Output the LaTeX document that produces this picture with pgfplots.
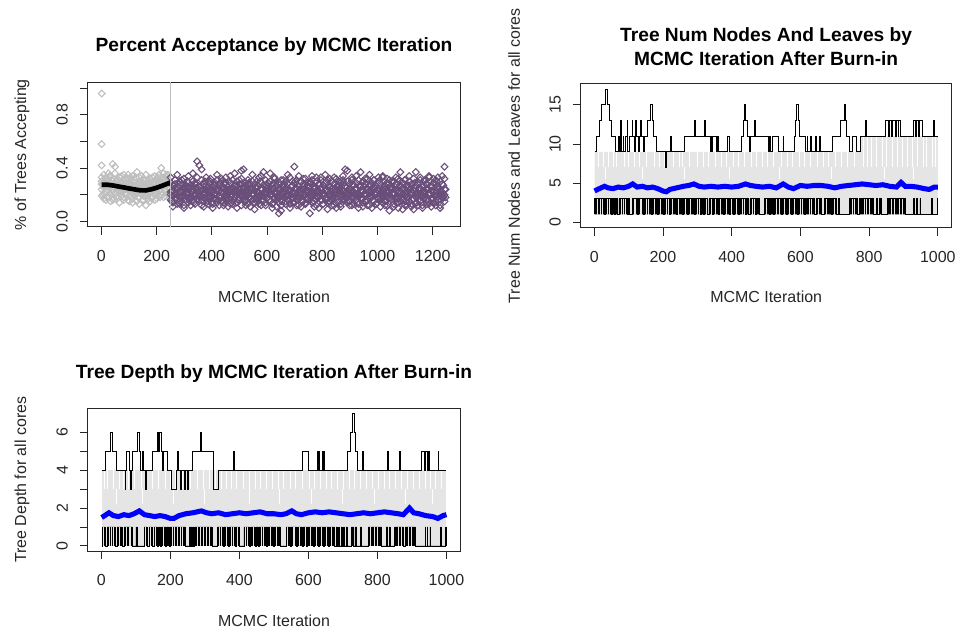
\documentclass[border=0pt]{standalone}
\usepackage{fontspec}
\setmainfont{Liberation Sans}
\usepackage{pgfplots}
\usepackage{pgfplotstable}
\pgfplotsset{compat=1.18}

\definecolor{rpurple}{RGB}{106,78,122}
\definecolor{rgray}{RGB}{190,190,190}
\definecolor{lgray}{RGB}{229,229,229}

\pgfplotsset{
  rbase/.style={
    scale only axis, anchor=south west,
    axis line style={black!85, line width=0.6pt},
    xtick pos=bottom, ytick pos=left,
    tick align=outside, major tick length=6pt,
    tick style={black!85, line width=0.6pt},
    ticklabel style={font=\fontsize{12}{14}\selectfont, text=black!85},
    /pgf/number format/assume math mode=true,
    /pgf/number format/1000 sep={},
    scaled ticks=false,
    xticklabel shift=8pt,
    yticklabel shift=5.5pt,
    yticklabel style={rotate=90, anchor=south},
    label style={font=\fontsize{12}{14}\selectfont, text=black!85},
    title style={font=\bfseries\fontsize{14.4}{18}\selectfont, anchor=center,
      align=center, yshift=-7.5pt},
  },
  rmark/.style={only marks, mark=square, mark size=1.8pt,
    every mark/.append style={rotate=45, line width=0.8pt}},
}

% burn-in acceptance (gray points)
\pgfplotstableread{
x a b c d e x2 f g
1 0.28 0.33 0.19 0.24 0.30 5 0.27 0.20
9 0.25 0.35 0.17 0.29 0.21 13 0.29 0.32
17 0.30 0.27 0.22 0.33 0.16 21 0.24 0.18
25 0.26 0.31 0.18 0.23 0.36 29 0.27 0.34
33 0.29 0.34 0.20 0.27 0.15 37 0.31 0.22
41 0.24 0.30 0.16 0.32 0.43 45 0.26 0.17
49 0.27 0.36 0.21 0.25 0.41 53 0.28 0.30
57 0.31 0.28 0.17 0.30 0.19 61 0.23 0.25
65 0.25 0.33 0.23 0.26 0.14 69 0.27 0.33
73 0.28 0.30 0.19 0.34 0.22 77 0.25 0.17
81 0.23 0.35 0.18 0.27 0.16 85 0.30 0.21
89 0.26 0.29 0.21 0.31 0.24 93 0.24 0.28
97 0.30 0.32 0.16 0.24 0.35 101 0.27 0.15
105 0.24 0.27 0.20 0.33 0.18 109 0.22 0.31
113 0.27 0.34 0.17 0.26 0.14 117 0.26 0.20
121 0.22 0.31 0.19 0.29 0.23 125 0.24 0.33
129 0.25 0.28 0.15 0.37 0.21 133 0.28 0.18
137 0.29 0.33 0.18 0.24 0.13 141 0.21 0.27
145 0.23 0.30 0.20 0.27 0.34 149 0.25 0.16
153 0.26 0.27 0.16 0.32 0.19 157 0.23 0.30
161 0.21 0.35 0.19 0.25 0.12 165 0.27 0.20
169 0.24 0.29 0.17 0.30 0.22 173 0.22 0.32
177 0.28 0.32 0.21 0.26 0.15 181 0.26 0.17
185 0.25 0.28 0.18 0.33 0.24 189 0.24 0.29
193 0.29 0.34 0.16 0.27 0.20 197 0.28 0.22
201 0.26 0.31 0.22 0.30 0.17 205 0.25 0.33
209 0.30 0.27 0.19 0.35 0.23 213 0.29 0.18
217 0.27 0.33 0.20 0.29 0.40 221 0.26 0.27
225 0.31 0.36 0.18 0.32 0.21 229 0.30 0.23
233 0.28 0.30 0.23 0.34 0.19 237 0.27 0.35
241 0.32 0.35 0.21 0.29 0.26 245 0.31 0.24
}\burntab

% post burn-in acceptance (purple points)
\pgfplotstableread{
x a b c d e x2 f g
251 0.22 0.29 0.16 0.20 0.33 255 0.23 0.15
259 0.19 0.27 0.14 0.23 0.11 263 0.20 0.27
267 0.25 0.31 0.17 0.21 0.28 271 0.18 0.20
275 0.21 0.26 0.13 0.24 0.35 279 0.25 0.14
283 0.18 0.30 0.15 0.22 0.13 287 0.22 0.29
291 0.24 0.28 0.18 0.19 0.31 295 0.19 0.17
299 0.20 0.32 0.12 0.25 0.10 303 0.24 0.25
307 0.23 0.27 0.16 0.21 0.26 311 0.21 0.30
315 0.26 0.29 0.14 0.20 0.34 319 0.17 0.16
323 0.17 0.25 0.19 0.23 0.12 327 0.23 0.22
331 0.22 0.30 0.15 0.24 0.36 335 0.26 0.14
339 0.20 0.28 0.13 0.19 0.29 343 0.20 0.28
347 0.25 0.33 0.17 0.22 0.45 351 0.22 0.19
355 0.19 0.26 0.16 0.21 0.42 359 0.18 0.26
363 0.23 0.31 0.12 0.25 0.39 367 0.24 0.15
371 0.21 0.28 0.18 0.20 0.11 375 0.21 0.30
379 0.24 0.27 0.14 0.23 0.33 383 0.25 0.18
387 0.18 0.30 0.15 0.22 0.13 391 0.19 0.24
395 0.22 0.32 0.17 0.19 0.30 399 0.23 0.14
403 0.26 0.26 0.13 0.24 0.10 407 0.20 0.27
411 0.20 0.29 0.16 0.21 0.27 415 0.17 0.21
419 0.23 0.31 0.14 0.20 0.35 423 0.24 0.16
427 0.19 0.27 0.18 0.23 0.12 431 0.22 0.29
435 0.25 0.30 0.15 0.22 0.32 439 0.26 0.15
443 0.21 0.28 0.12 0.25 0.14 447 0.19 0.25
451 0.17 0.33 0.16 0.19 0.29 455 0.21 0.18
459 0.24 0.26 0.17 0.21 0.11 463 0.23 0.30
467 0.22 0.29 0.13 0.24 0.34 471 0.18 0.14
475 0.20 0.31 0.15 0.20 0.13 479 0.25 0.23
483 0.23 0.27 0.18 0.22 0.36 487 0.20 0.27
491 0.26 0.30 0.14 0.23 0.10 495 0.22 0.16
499 0.18 0.28 0.16 0.21 0.31 503 0.24 0.20
507 0.21 0.32 0.12 0.19 0.38 511 0.19 0.28
515 0.24 0.26 0.17 0.25 0.39 519 0.21 0.15
523 0.19 0.29 0.15 0.22 0.12 527 0.26 0.24
531 0.22 0.31 0.13 0.20 0.28 535 0.18 0.29
539 0.25 0.27 0.18 0.24 0.11 543 0.23 0.17
547 0.20 0.30 0.16 0.21 0.35 551 0.20 0.14
555 0.23 0.28 0.14 0.23 0.09 559 0.25 0.26
563 0.17 0.25 0.15 0.22 0.30 567 0.22 0.19
571 0.21 0.33 0.17 0.19 0.13 575 0.19 0.30
579 0.24 0.29 0.12 0.25 0.34 583 0.24 0.15
587 0.19 0.27 0.16 0.21 0.37 591 0.21 0.22
595 0.22 0.31 0.14 0.20 0.12 599 0.17 0.27
603 0.26 0.26 0.18 0.24 0.29 607 0.23 0.16
611 0.20 0.30 0.15 0.22 0.36 615 0.20 0.25
619 0.23 0.28 0.13 0.23 0.10 623 0.25 0.14
627 0.18 0.32 0.17 0.21 0.33 631 0.22 0.29
635 0.21 0.27 0.16 0.19 0.11 639 0.18 0.18
643 0.24 0.29 0.14 0.25 0.06 647 0.24 0.23
651 0.19 0.31 0.12 0.22 0.08 655 0.21 0.15
659 0.22 0.26 0.18 0.20 0.31 663 0.26 0.28
667 0.25 0.30 0.15 0.24 0.13 671 0.19 0.20
675 0.20 0.28 0.16 0.21 0.35 679 0.23 0.16
683 0.23 0.33 0.13 0.23 0.10 687 0.20 0.26
691 0.17 0.27 0.17 0.22 0.30 695 0.22 0.14
699 0.21 0.29 0.14 0.19 0.41 703 0.25 0.30
707 0.24 0.31 0.16 0.25 0.12 711 0.18 0.19
715 0.19 0.26 0.12 0.21 0.34 719 0.21 0.24
723 0.22 0.30 0.18 0.20 0.11 727 0.24 0.15
731 0.26 0.28 0.15 0.24 0.32 735 0.19 0.27
739 0.20 0.32 0.13 0.22 0.14 743 0.23 0.17
747 0.23 0.27 0.17 0.23 0.29 751 0.26 0.22
755 0.18 0.29 0.16 0.21 0.06 759 0.20 0.29
763 0.21 0.31 0.14 0.19 0.34 767 0.22 0.14
771 0.24 0.26 0.15 0.25 0.11 775 0.17 0.25
779 0.19 0.30 0.12 0.22 0.33 783 0.24 0.18
787 0.22 0.28 0.18 0.20 0.10 791 0.21 0.28
795 0.25 0.33 0.16 0.24 0.31 799 0.25 0.16
803 0.20 0.27 0.13 0.21 0.13 807 0.19 0.21
811 0.23 0.29 0.17 0.23 0.35 815 0.23 0.30
819 0.17 0.31 0.14 0.22 0.09 823 0.20 0.15
827 0.21 0.26 0.15 0.19 0.32 831 0.22 0.26
835 0.24 0.30 0.16 0.25 0.12 839 0.18 0.19
843 0.19 0.28 0.12 0.21 0.33 847 0.24 0.14
851 0.22 0.32 0.18 0.20 0.10 855 0.26 0.27
859 0.26 0.27 0.15 0.24 0.30 863 0.21 0.23
867 0.20 0.29 0.13 0.22 0.11 871 0.19 0.16
875 0.23 0.31 0.17 0.23 0.34 879 0.23 0.29
883 0.18 0.26 0.16 0.21 0.39 887 0.25 0.18
891 0.21 0.30 0.14 0.19 0.38 895 0.20 0.15
899 0.24 0.28 0.15 0.25 0.12 903 0.22 0.24
907 0.19 0.33 0.12 0.22 0.31 911 0.17 0.28
915 0.22 0.27 0.18 0.20 0.13 919 0.24 0.20
923 0.25 0.29 0.16 0.24 0.34 927 0.21 0.14
931 0.20 0.31 0.13 0.21 0.10 935 0.19 0.26
939 0.23 0.26 0.17 0.23 0.37 943 0.23 0.17
947 0.17 0.30 0.14 0.22 0.11 951 0.26 0.30
955 0.21 0.28 0.15 0.19 0.32 959 0.20 0.15
963 0.24 0.32 0.16 0.25 0.12 967 0.22 0.22
971 0.19 0.27 0.12 0.21 0.35 975 0.18 0.27
979 0.22 0.29 0.18 0.20 0.10 983 0.25 0.16
987 0.26 0.31 0.15 0.24 0.31 991 0.21 0.25
995 0.20 0.26 0.13 0.22 0.13 999 0.24 0.14
1003 0.23 0.30 0.17 0.23 0.33 1007 0.19 0.29
1011 0.18 0.28 0.16 0.21 0.11 1015 0.23 0.19
1019 0.21 0.33 0.14 0.19 0.34 1023 0.20 0.23
1027 0.24 0.27 0.15 0.25 0.12 1031 0.22 0.15
1035 0.19 0.29 0.12 0.22 0.32 1039 0.17 0.28
1043 0.22 0.31 0.18 0.20 0.08 1047 0.25 0.17
1051 0.25 0.26 0.16 0.24 0.30 1055 0.21 0.21
1059 0.20 0.30 0.13 0.21 0.11 1063 0.24 0.26
1067 0.23 0.28 0.17 0.23 0.33 1071 0.19 0.14
1075 0.17 0.32 0.14 0.22 0.10 1079 0.23 0.30
1083 0.21 0.27 0.15 0.19 0.37 1087 0.26 0.18
1091 0.24 0.29 0.16 0.25 0.09 1095 0.20 0.24
1099 0.19 0.31 0.12 0.21 0.31 1103 0.22 0.15
1107 0.22 0.26 0.18 0.20 0.12 1111 0.18 0.27
1115 0.26 0.30 0.15 0.24 0.34 1119 0.24 0.20
1123 0.20 0.28 0.13 0.22 0.11 1127 0.21 0.16
1131 0.23 0.32 0.17 0.23 0.09 1135 0.25 0.29
1139 0.18 0.27 0.14 0.21 0.37 1143 0.19 0.14
1147 0.21 0.29 0.16 0.19 0.12 1151 0.23 0.25
1155 0.24 0.31 0.15 0.25 0.33 1159 0.20 0.19
1163 0.19 0.26 0.12 0.22 0.10 1167 0.17 0.22
1171 0.22 0.30 0.18 0.20 0.31 1175 0.22 0.28
1179 0.25 0.28 0.16 0.24 0.13 1183 0.24 0.15
1187 0.20 0.33 0.13 0.21 0.34 1191 0.21 0.26
1195 0.23 0.27 0.17 0.23 0.11 1199 0.26 0.17
1203 0.17 0.29 0.14 0.22 0.32 1207 0.19 0.14
1211 0.21 0.31 0.15 0.19 0.12 1215 0.23 0.30
1219 0.24 0.26 0.16 0.25 0.33 1223 0.20 0.21
1227 0.19 0.30 0.12 0.21 0.10 1231 0.22 0.16
1235 0.22 0.28 0.18 0.20 0.34 1239 0.18 0.27
1243 0.20 0.32 0.15 0.24 0.41 1247 0.24 0.18
}\posttab

\begin{document}
\begin{tikzpicture}
\path (0,0) rectangle (720pt,474.75pt);

% ---------------- panel 1 ----------------
\begin{axis}[rbase,
  at={(66pt,304.5pt)}, width=279.75pt, height=108pt,
  clip marker paths=true,
  xmin=-49, xmax=1300, ymin=-0.04, ymax=1.04,
  xtick={0,200,...,1200},
  ytick={0,0.2,0.4,0.6,0.8,1}, yticklabels={0.0,,0.4,,0.8,},
  title={Percent Acceptance by MCMC Iteration},
  title style={at={(axis description cs:0.5,1.264)}},
  xlabel={MCMC Iteration},
  xlabel style={at={(axis description cs:0.5,-0.486)}, anchor=center},
  ylabel={\% of Trees Accepting},
  ylabel style={at={(axis description cs:-0.177,0.5)}, anchor=center},
]
\addplot[rmark, rgray] table[x=x,y=a]{\burntab};
\addplot[rmark, rgray] table[x=x,y=b]{\burntab};
\addplot[rmark, rgray] table[x=x,y=c]{\burntab};
\addplot[rmark, rgray] table[x=x,y=d]{\burntab};
\addplot[rmark, rgray] table[x=x,y=e]{\burntab};
\addplot[rmark, rgray] table[x=x2,y=f]{\burntab};
\addplot[rmark, rgray] table[x=x2,y=g]{\burntab};
\addplot[rmark, rgray] coordinates {(1,0.96) (1,0.58) (1,0.42)};
\addplot[rmark, rpurple] table[x=x,y=a]{\posttab};
\addplot[rmark, rpurple] table[x=x,y=b]{\posttab};
\addplot[rmark, rpurple] table[x=x,y=c]{\posttab};
\addplot[rmark, rpurple] table[x=x,y=d]{\posttab};
\addplot[rmark, rpurple] table[x=x,y=e]{\posttab};
\addplot[rmark, rpurple] table[x=x2,y=f]{\posttab};
\addplot[rmark, rpurple] table[x=x2,y=g]{\posttab};
\addplot[black, line width=3.5pt] coordinates {
  (1,0.275) (20,0.275) (40,0.270) (60,0.262) (80,0.255) (100,0.247)
  (120,0.240) (140,0.233) (160,0.232) (180,0.240) (200,0.252)
  (220,0.267) (240,0.283) (250,0.290)};
\addplot[rgray, line width=1pt] coordinates {(250,-1) (250,2)};
\end{axis}

% ---------------- panel 2 ----------------
\begin{axis}[rbase,
  at={(436.3pt,303.75pt)}, width=278.5pt, height=108pt,
  xmin=-39, xmax=1040, ymin=-0.68, ymax=17.68,
  xtick={0,200,...,1000}, ytick={0,5,10,15},
  title={Tree Num Nodes And Leaves by\\MCMC Iteration After Burn-in},
  title style={at={(axis description cs:0.5,1.27)}},
  xlabel={MCMC Iteration},
  xlabel style={at={(axis description cs:0.5,-0.479)}, anchor=center},
  ylabel={Tree Num Nodes and Leaves for all cores},
  ylabel style={at={(axis description cs:-0.18,0.5)}, anchor=center},
]
\addplot[fill=lgray, draw=none] coordinates {(1,1) (1,9) (775,9) (775,11) (1000,11) (1000,1)};
\addplot[white, line width=0.7pt, ycomb] coordinates {
  (12,9) (27,9) (41,9) (57,9) (66,9) (88,9) (101,9) (117,9) (133,9) (152,9)
  (176,9) (190,9) (205,9) (231,9) (247,9) (258,9) (276,9) (301,9) (318,9)
  (333,9) (352,9) (371,9) (386,9) (404,9) (419,9) (437,9) (458,9) (472,9)
  (489,9) (503,9) (521,9) (544,9) (561,9) (578,9) (596,9) (611,9) (628,9)
  (649,9) (667,9) (682,9) (703,9) (719,9) (736,9) (757,9)
  (783,11) (796,11) (807,11) (821,11) (838,11) (852,11) (869,11) (884,11)
  (897,11) (912,11) (926,11) (941,11) (957,11) (968,11) (983,11) (994,11)};
\addplot[fill=lgray, draw=none] coordinates {(1,1) (1,7) (1000,7) (1000,1)};
\addplot[white, line width=0.7pt, ycomb] coordinates {
  (33,7) (140,7) (262,7) (395,7) (540,7) (690,7) (845,7) (930,7)};
\addplot[fill=lgray, draw=none] coordinates {(1,1) (1,5.5) (1000,5.5) (1000,1)};
% minimum over trees
\addplot[const plot, fill=black, draw=black, line width=0.5pt] coordinates {
  (1,1) (1,3) (30,1) (33,3) (50,1) (53,3) (58,1) (62,3) (68,1) (72,3) (95,1)
  (99,3) (101,1) (112,3) (125,1) (128,3) (142,1) (146,3) (165,1) (168,3) (183,1)
  (186,3) (200,1) (204,3) (220,1) (223,3) (238,1) (241,3) (256,1) (259,3) (272,1)
  (275,3) (290,1) (293,3) (310,1) (313,3) (318,1) (321,3) (330,1) (334,3) (345,1)
  (348,3) (360,1) (363,3) (375,1) (378,3) (392,1) (395,3) (405,1) (408,3) (420,1)
  (423,3) (440,1) (443,3) (450,1) (453,3) (470,1) (473,3) (482,1) (495,3) (510,1)
  (513,3) (522,1) (525,3) (545,1) (548,3) (560,1) (563,3) (575,1) (578,3) (590,1)
  (593,3) (612,1) (615,3) (640,1) (646,3) (660,1) (670,3) (690,1) (693,3) (705,1)
  (710,3) (713,1) (742,3) (766,1) (771,3) (811,1) (822,3) (825,1) (830,3) (835,1)
  (854,3) (906,1) (930,3) (932,1) (938,3) (940,1) (948,3) (950,1) (982,3) (984,1)
  (998,3) (1000,1)};
\addplot[lgray, line width=0.6pt, ycomb] coordinates {
  (8,3) (17,3) (24,3) (38,3) (45,3) (78,3) (85,3) (90,3) (116,3) (121,3)
  (133,3) (138,3) (152,3) (159,3) (174,3) (192,3) (210,3) (215,3) (229,3)
  (246,3) (265,3) (281,3) (299,3) (305,3) (326,3) (340,3) (354,3) (368,3)
  (385,3) (400,3) (414,3) (430,3) (436,3) (459,3) (465,3) (500,3) (530,3)
  (539,3) (554,3) (569,3) (584,3) (600,3) (606,3) (625,3) (633,3) (652,3)
  (677,3) (699,3) (750,3) (757,3) (785,3) (793,3) (802,3) (866,3) (875,3)
  (888,3) (897,3)};
\addplot[fill=white, draw=none] coordinates {(-5,-0.3) (-5,0.93) (1005,0.93) (1005,-0.3)};
% mean over trees
\addplot[blue, line width=3.8pt] coordinates {
  (1,4.0) (10,4.2) (20,4.4) (30,4.6) (40,4.4) (55,4.3) (70,4.5) (85,4.4)
  (100,4.6) (112,4.9) (125,4.5) (140,4.6) (155,4.4) (170,4.5) (185,4.3)
  (200,4.0) (210,3.9) (220,4.2) (240,4.4) (260,4.6) (275,4.7) (290,4.9)
  (305,4.6) (320,4.5) (340,4.6) (360,4.5) (380,4.6) (400,4.5) (420,4.6)
  (440,4.9) (455,4.7) (470,4.6) (490,4.5) (510,4.6) (530,4.4) (550,4.9)
  (565,4.5) (580,4.3) (600,4.7) (620,4.6) (640,4.7) (660,4.7) (680,4.6)
  (700,4.4) (720,4.6) (740,4.7) (760,4.8) (780,4.9) (800,4.8) (820,4.7)
  (840,4.8) (860,4.6) (880,4.5) (893,5.1) (905,4.6) (920,4.6) (940,4.5)
  (960,4.3) (975,4.2) (990,4.5) (1000,4.5)};
% maximum over trees
\addplot[const plot, black, line width=0.75pt] coordinates {
  (1,9) (6,11) (16,13) (22,15) (33,17) (39,15) (45,13) (50,11) (62,9) (72,11)
  (74,9) (77,13) (79,9) (84,11) (86,9) (92,11) (96,13) (98,9) (103,11) (110,13)
  (112,11) (118,9) (121,13) (123,11) (128,9) (131,11) (135,13) (137,11) (143,9)
  (147,11) (155,13) (164,15) (169,13) (173,11) (180,9) (208,7) (211,9) (222,11)
  (224,9) (264,11) (291,13) (294,11) (322,13) (324,11) (337,9) (339,11) (342,9)
  (344,11) (356,9) (358,11) (361,9) (388,11) (395,9) (430,11) (434,13) (437,15)
  (441,13) (445,11) (451,9) (455,11) (466,13) (469,11) (506,9) (510,11) (513,9)
  (518,11) (536,9) (550,11) (552,9) (584,11) (587,13) (590,15) (594,13) (598,11)
  (614,9) (620,11) (622,9) (630,11) (632,9) (645,11) (647,9) (656,11) (658,9)
  (694,11) (718,13) (727,15) (730,13) (734,11) (742,9) (752,11) (762,9) (774,11)
  (791,13) (793,11) (848,13) (856,11) (859,13) (866,11) (869,13) (876,11) (879,13)
  (885,11) (887,13) (892,11) (930,13) (936,11) (938,13) (944,11) (947,13) (955,11)
  (986,13) (989,11) (1000,11)};
\end{axis}

% ---------------- panel 3 ----------------
\begin{axis}[rbase,
  at={(66pt,60.75pt)}, width=279.75pt, height=107.25pt,
  xmin=-39, xmax=1040, ymin=-0.28, ymax=7.28,
  xtick={0,200,...,1000},
  ytick={0,1,2,3,4,5,6}, yticklabels={0,,2,,4,,6},
  title={Tree Depth by MCMC Iteration After Burn-in},
  title style={at={(axis description cs:0.5,1.259)}},
  xlabel={MCMC Iteration},
  xlabel style={at={(axis description cs:0.5,-0.49)}, anchor=center},
  ylabel={Tree Depth for all cores},
  ylabel style={at={(axis description cs:-0.177,0.5)}, anchor=center},
]
\addplot[fill=lgray, draw=none] coordinates {(1,0) (1,4) (1000,4) (1000,0)};
\addplot[white, line width=0.7pt, ycomb] coordinates {
  (8,4) (19,4) (35,4) (52,4) (63,4) (79,4) (97,4) (115,4) (131,4) (148,4)
  (166,4) (187,4) (199,4) (214,4) (236,4) (258,4) (279,4) (297,4) (313,4)
  (331,4) (348,4) (362,4) (377,4) (393,4) (411,4) (428,4) (446,4) (462,4)
  (479,4) (495,4) (512,4) (529,4) (547,4) (563,4) (584,4) (602,4) (617,4)
  (635,4) (652,4) (668,4) (685,4) (701,4) (718,4) (734,4) (751,4) (769,4)
  (786,4) (803,4) (819,4) (836,4) (852,4) (871,4) (887,4) (904,4) (921,4)
  (938,4) (953,4) (969,4) (986,4)};
\addplot[fill=lgray, draw=none] coordinates {(1,0) (1,3) (1000,3) (1000,0)};
\addplot[white, line width=0.7pt, ycomb] coordinates {
  (45,3) (120,3) (210,3) (300,3) (430,3) (515,3) (610,3) (700,3) (790,3)
  (880,3) (960,3)};
\addplot[fill=lgray, draw=none] coordinates {(1,0) (1,2.2) (1000,2.2) (1000,0)};
% minimum over trees
\addplot[const plot, fill=black, draw=black, line width=0.5pt] coordinates {
  (1,0) (3,1) (12,0) (17,1) (41,0) (46,1) (60,0) (66,1) (90,0) (100,1) (104,0)
  (124,1) (133,0) (139,1) (148,0) (153,1) (162,0) (165,1) (172,0) (175,1) (186,0)
  (189,1) (196,0) (199,1) (244,0) (255,1) (258,0) (261,1) (263,0) (266,1) (268,0)
  (270,1) (321,0) (336,1) (353,0) (356,1) (367,0) (370,1) (387,0) (390,1) (401,0)
  (413,1) (430,0) (433,1) (445,0) (448,1) (454,0) (457,1) (479,0) (482,1) (499,0)
  (502,1) (518,0) (536,1) (547,0) (550,1) (566,0) (569,1) (581,0) (584,1) (595,0)
  (598,1) (615,0) (618,1) (629,0) (632,1) (644,0) (647,1) (659,0) (662,1) (675,0)
  (680,1) (683,0) (688,1) (690,0) (695,1) (697,0) (702,1) (704,0) (709,1) (712,0)
  (725,1) (730,0) (735,1) (740,0) (750,1) (753,0) (773,1) (812,0) (825,1) (830,0)
  (834,1) (837,0) (850,1) (875,0) (880,1) (909,0) (938,1) (940,0) (944,1) (946,0)
  (952,1) (954,0) (983,1) (985,0) (998,1) (1000,0)};
\addplot[lgray, line width=0.6pt, ycomb] coordinates {
  (7,1) (22,1) (30,1) (36,1) (52,1) (72,1) (80,1) (85,1) (128,1) (143,1)
  (157,1) (180,1) (205,1) (212,1) (220,1) (228,1) (236,1) (278,1) (288,1)
  (296,1) (305,1) (314,1) (342,1) (348,1) (362,1) (376,1) (382,1) (395,1)
  (418,1) (424,1) (440,1) (464,1) (470,1) (490,1) (508,1) (540,1) (556,1)
  (560,1) (575,1) (590,1) (605,1) (622,1) (638,1) (653,1) (668,1) (780,1)
  (790,1) (800,1) (860,1) (868,1) (890,1) (898,1)};
% mean over trees
\addplot[blue, line width=3.8pt] coordinates {
  (1,1.5) (10,1.6) (22,1.75) (35,1.6) (50,1.55) (65,1.65) (80,1.6) (95,1.7)
  (110,1.85) (125,1.65) (140,1.6) (155,1.55) (170,1.6) (185,1.55) (200,1.45)
  (210,1.45) (225,1.6) (245,1.7) (265,1.75) (290,1.85) (305,1.75) (320,1.7)
  (340,1.75) (360,1.65) (380,1.7) (400,1.75) (420,1.7) (440,1.75) (460,1.8)
  (480,1.7) (500,1.7) (520,1.65) (535,1.7) (552,1.85) (565,1.7) (580,1.65)
  (600,1.75) (620,1.8) (640,1.75) (660,1.8) (680,1.75) (700,1.7) (720,1.65)
  (740,1.7) (760,1.75) (780,1.7) (800,1.75) (820,1.8) (840,1.75) (860,1.7)
  (875,1.65) (893,2.0) (905,1.75) (920,1.7) (940,1.6) (960,1.55) (975,1.45)
  (990,1.6) (1000,1.65)};
% maximum over trees
\addplot[const plot, black, line width=0.75pt] coordinates {
  (1,4) (12,5) (28,6) (33,5) (43,4) (69,3) (71,4) (73,5) (81,4) (85,3) (87,4)
  (90,5) (105,6) (110,5) (113,4) (118,5) (122,4) (127,3) (130,4) (148,5) (163,6)
  (166,5) (170,6) (173,5) (178,4) (181,5) (193,4) (202,3) (217,4) (222,5) (225,4)
  (230,3) (233,4) (240,3) (243,4) (250,3) (252,4) (265,5) (287,6) (290,5) (324,4)
  (326,3) (340,4) (384,5) (387,4) (582,5) (599,4) (626,5) (628,4) (631,5) (633,4)
  (640,5) (642,4) (645,5) (647,4) (714,5) (722,6) (728,7) (733,6) (737,5) (743,4)
  (757,5) (759,4) (830,5) (832,4) (864,5) (866,4) (928,5) (936,4) (938,5) (946,4)
  (948,5) (950,4) (976,5) (978,4) (1000,4)};
\end{axis}
\end{tikzpicture}
\end{document}
